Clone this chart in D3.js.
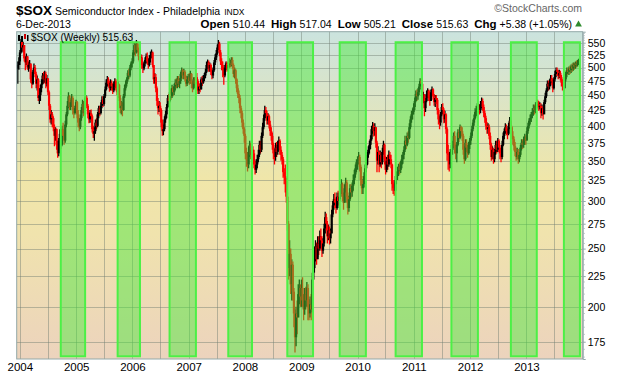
<!DOCTYPE html>
<html>
<head>
<meta charset="utf-8">
<script src="https://cdn.jsdelivr.net/npm/d3@7"></script>
<style>
  body { margin: 0; background: #fff; }
  svg { display: block; }
  text { font-family: "Liberation Sans", Arial, sans-serif; }
</style>
</head>
<body>
<svg id="chart" width="620" height="376"></svg>
<script>
// Weekly bars, one entry per Friday: [high, low, close]
const bars2003 = [[512,470,505],[520,496,512]]
const bars2004 = [
  [535,505,530],[558,528,552],[556,532,540],[552,530,545],[545,512,518],[522,495,510],[528,505,522],[522,496,500],
  [512,492,505],[515,498,508],[505,472,478],[485,462,470],[496,468,492],[508,488,500],[505,482,488],[492,462,470],
  [485,458,478],[480,440,445],[462,435,450],[468,440,462],[478,455,470],[490,468,485],[492,470,478],[494,472,488],
  [492,462,470],[486,465,480],[480,450,455],[458,425,432],[435,405,410],[425,402,418],[422,398,412],[415,392,398],
  [402,370,385],[398,378,395],[396,365,372],[378,354,360],[382,356,378],[395,372,388],[392,366,372],[400,370,395],
  [405,380,385],[390,372,378],[408,375,402],[422,398,418],[440,415,432],[455,428,448],[450,425,430],[442,425,438],
  [452,430,445],[448,418,425],[432,412,420],[432,418,428],[442,422,438]
]
const bars2005 = [
  [440,412,418],[425,398,405],[412,392,398],[418,395,412],[430,408,425],[442,420,435],[440,415,420],[446,418,440],
  [450,432,445],[448,428,432],[435,412,418],[422,404,410],[425,405,420],[426,408,415],[418,390,395],[400,382,388],
  [398,378,392],[410,388,405],[412,395,400],[422,398,418],[432,412,428],[432,415,420],[438,418,432],[448,428,442],
  [448,430,435],[452,432,448],[465,445,460],[478,458,472],[484,465,478],[482,465,470],[475,456,462],[478,458,472],
  [476,458,465],[470,452,458],[474,455,470],[480,464,475],[478,458,462],[468,450,455],[474,450,468],[470,440,445],
  [450,420,428],[440,418,432],[438,415,425],[452,424,448],[468,445,462],[476,458,470],[482,465,478],[495,474,490],
  [498,478,485],[505,482,500],[512,495,508],[518,500,512]
]
const bars2006 = [
  [535,508,530],[550,525,545],[552,522,530],[556,528,548],[552,530,535],[540,515,522],[528,505,512],[526,505,520],
  [525,498,505],[510,490,498],[512,495,508],[520,502,515],[528,508,522],[530,506,512],[518,498,505],[524,502,518],
  [532,510,525],[536,518,530],[532,500,505],[505,470,478],[490,470,482],[488,455,462],[465,432,440],[445,418,428],
  [440,422,432],[438,415,425],[428,398,405],[410,385,392],[402,386,395],[415,392,410],[424,405,418],[435,412,430],
  [450,428,445],[452,435,440],[460,438,455],[462,442,448],[468,445,462],[466,448,455],[470,450,465],[478,458,472],
  [480,462,468],[484,462,478],[484,464,470],[480,462,475],[492,470,488],[500,480,495],[498,478,485],[498,478,492],
  [495,474,480],[485,465,470],[484,466,478],[488,472,482]
]
const bars2007 = [
  [490,468,475],[494,470,488],[490,462,470],[475,455,462],[482,460,478],[482,465,470],[488,468,482],[490,470,475],
  [478,452,458],[470,452,465],[472,455,460],[482,460,478],[484,466,472],[486,470,480],[490,475,485],[498,480,492],
  [512,490,505],[516,498,510],[514,492,498],[510,492,505],[508,486,492],[498,478,485],[500,480,495],[515,492,510],
  [526,505,520],[535,515,528],[546,525,540],[556,535,548],[552,522,530],[535,505,512],[518,495,505],[512,482,495],
  [500,468,485],[505,482,500],[512,495,508],[512,492,498],[510,494,505],[518,500,512],[516,500,508],[520,502,515],
  [520,498,505],[508,482,488],[500,480,495],[498,470,478],[480,455,462],[468,445,452],[458,436,445],[450,420,428],
  [432,412,420],[424,398,405],[410,388,395],[398,375,385]
]
const bars2008 = [
  [388,352,360],[368,342,352],[362,336,345],[370,340,362],[378,355,372],[375,352,358],[372,352,365],[370,350,360],
  [365,340,345],[350,332,338],[352,334,345],[358,340,352],[365,348,358],[378,355,372],[378,360,365],[390,362,385],
  [405,382,398],[418,395,412],[432,408,425],[430,412,420],[424,402,408],[420,402,415],[418,396,402],[408,385,392],
  [398,378,385],[390,365,372],[375,352,360],[366,345,355],[375,350,368],[376,355,362],[378,358,372],[384,364,378],
  [380,358,365],[370,350,358],[362,345,352],[355,328,335],[340,320,330],[345,310,325],[328,298,305],[310,268,275],
  [278,222,232],[258,225,245],[250,210,218],[240,205,235],[238,205,212],[215,185,195],[198,168,178],[200,172,195],
  [205,180,192],[218,195,210],[222,202,215],[218,200,208]
]
const bars2009 = [
  [222,200,215],[224,200,205],[210,190,198],[215,194,210],[216,198,205],[220,200,215],[218,190,200],[206,190,195],
  [208,192,202],[210,190,198],[228,196,222],[238,218,232],[252,228,245],[258,238,252],[256,235,240],[262,242,255],
  [262,244,250],[268,248,262],[270,250,258],[262,242,248],[260,245,255],[275,252,270],[288,265,282],[286,268,275],
  [278,255,262],[274,258,268],[272,254,260],[270,255,265],[290,265,285],[300,282,295],[308,290,302],[310,292,298],
  [304,286,292],[310,290,305],[312,295,300],[310,292,305],[320,302,315],[326,308,320],[322,300,305],[310,290,298],
  [320,298,315],[328,310,322],[325,298,305],[310,285,292],[306,288,302],[320,300,315],[320,304,310],[322,305,318],
  [332,312,325],[338,320,332],[345,328,340],[352,335,348]
]
const bars2010 = [
  [356,338,350],[362,345,355],[358,336,342],[345,318,325],[330,308,315],[326,308,320],[335,316,330],[345,328,340],
  [350,335,345],[362,344,358],[370,354,365],[378,360,372],[386,366,380],[400,378,395],[406,388,400],[404,384,392],
  [404,385,398],[398,368,375],[378,335,350],[370,345,362],[364,335,345],[364,342,358],[362,340,348],[368,345,362],
  [378,358,372],[374,345,352],[356,332,338],[355,335,350],[358,338,345],[364,342,358],[362,346,352],[358,340,345],
  [346,312,320],[325,308,315],[322,306,312],[330,312,325],[336,320,330],[342,325,336],[346,330,342],[348,332,338],
  [350,334,345],[358,340,352],[362,346,358],[370,352,365],[385,362,378],[384,366,372],[390,370,385],[392,375,382],
  [404,380,398],[415,395,410],[424,405,418],[428,410,422],[436,418,430]
]
const bars2011 = [
  [446,425,440],[458,438,452],[460,440,448],[462,442,455],[470,450,465],[480,460,475],[478,462,470],[470,438,445],
  [456,436,450],[452,415,428],[445,422,440],[458,438,452],[462,445,458],[460,440,445],[450,432,440],[460,440,455],
  [465,448,460],[462,442,448],[452,432,438],[450,430,445],[450,435,442],[445,418,425],[428,402,410],[415,395,405],
  [422,400,418],[435,415,430],[436,418,425],[428,404,410],[424,405,418],[420,388,395],[398,350,360],[372,338,358],
  [362,336,345],[366,340,362],[372,352,365],[378,358,372],[390,368,385],[392,360,368],[374,352,360],[376,348,372],
  [395,370,390],[394,376,382],[402,380,398],[400,384,392],[398,378,385],[388,358,365],[370,346,352],[380,350,375],
  [380,362,368],[372,354,360],[376,358,372],[382,366,378]
]
const bars2012 = [
  [390,372,385],[400,382,395],[410,392,405],[418,400,412],[428,410,422],[432,415,425],[436,418,430],[436,420,428],
  [434,418,425],[440,420,435],[446,428,440],[444,424,430],[434,414,420],[424,405,412],[416,394,400],[406,388,395],
  [404,388,398],[402,380,385],[390,365,372],[375,350,355],[370,352,365],[368,346,352],[366,348,362],[378,358,372],
  [378,360,365],[382,362,378],[380,362,368],[372,352,360],[366,348,355],[378,352,372],[390,370,385],[396,380,392],
  [404,388,398],[402,386,392],[396,380,388],[405,386,400],[414,395,408],[410,392,398],[400,380,385],[392,372,380],
  [384,364,370],[376,356,362],[368,350,355],[368,352,362],[366,346,352],[362,348,358],[372,355,368],[380,364,375],
  [380,366,372],[384,368,378],[388,372,382],[386,372,378]
]
const bars2013 = [
  [398,380,392],[405,388,400],[412,396,408],[418,402,412],[422,406,418],[428,412,422],[434,416,428],[434,418,425],
  [438,420,432],[442,426,438],[442,428,435],[440,424,430],[438,426,432],[436,412,420],[434,416,428],[432,410,418],
  [442,420,438],[454,435,448],[462,445,458],[476,456,470],[476,458,465],[478,460,472],[486,466,480],[486,468,474],
  [480,455,462],[482,460,478],[494,474,488],[500,482,495],[500,484,492],[496,478,485],[496,480,490],[494,476,482],
  [486,465,472],[478,458,468],[472,456,462],[482,462,478],[492,474,488],[500,482,495],[500,486,492],[502,486,498],
  [504,488,495],[506,490,502],[508,492,498],[510,494,505],[510,496,502],[512,498,508],[514,500,505],[515,502,510.25],
  [517.04,505.21,515.63]
]
const firstOpen = 498
const weeklyYears = [2003, 2004, 2005, 2006, 2007, 2008, 2009, 2010, 2011, 2012, 2013]
const weeklyBars = [bars2003, bars2004, bars2005, bars2006, bars2007, bars2008, bars2009, bars2010, bars2011, bars2012, bars2013]

// Axes
const yearTicks = [2004, 2005, 2006, 2007, 2008, 2009, 2010, 2011, 2012, 2013]
const priceTicks = [175, 200, 225, 250, 275, 300, 325, 350, 375, 400, 425, 450, 475, 500, 525, 550]

// Highlighted seasonal windows
const boxStarts = ["2004-09-23", "2005-09-27", "2006-08-30", "2007-09-15", "2008-10-02", "2009-09-07", "2010-09-05", "2011-09-02", "2012-09-22", "2013-09-01"]
const boxEnds   = ["2005-02-28", "2006-02-19", "2007-02-17", "2008-02-16", "2009-03-18", "2010-02-24", "2011-02-23", "2012-02-21", "2013-03-09", "2013-12-14"]

// Header
const symbol = "$SOX"
const indexName = "Semiconductor Index - Philadelphia"
const exchange = "INDX"
const lastDate = "6-Dec-2013"
const quoteLabels = ["Open", "High", "Low", "Close", "Chg"]
const quoteValues = ["510.44", "517.04", "505.21", "515.63", "+5.38 (+1.05%)"]
const legendText = "$SOX (Weekly) 515.63"

const svg = d3.select("#chart")
const plotL = 16.7, plotR = 582.7, plotT = 31.7, plotB = 359

const x = d3.scaleUtc()
  .domain([new Date(Date.UTC(2003, 11, 12)), new Date(Date.UTC(2014, 0, 1))])
  .range([plotL, plotR])
const y = d3.scaleLog()
  .domain([163.8, 573.7])
  .range([plotB, plotT])

// background gradient
const defs = svg.append("defs")
const grad = defs.append("linearGradient").attr("id", "bg")
  .attr("x1", 0).attr("y1", 0).attr("x2", 0).attr("y2", 1)
grad.append("stop").attr("offset", "0%").attr("stop-color", "#cbe3de")
grad.append("stop").attr("offset", "45%").attr("stop-color", "#f0e6a9")
grad.append("stop").attr("offset", "62%").attr("stop-color", "#f0e3ad")
grad.append("stop").attr("offset", "100%").attr("stop-color", "#ecd3bd")
defs.append("clipPath").attr("id", "plotclip")
  .append("rect").attr("x", plotL).attr("y", plotT).attr("width", plotR - plotL).attr("height", plotB - plotT)

svg.append("rect")
  .attr("x", plotL).attr("y", plotT)
  .attr("width", plotR - plotL).attr("height", plotB - plotT)
  .attr("fill", "url(#bg)")

// grid
const halfYears = []
yearTicks.forEach(yr => {
  halfYears.push(new Date(Date.UTC(yr, 0, 1)))
  halfYears.push(new Date(Date.UTC(yr, 6, 1)))
})
svg.append("g").selectAll("line").data(halfYears).join("line")
  .attr("x1", d => Math.round(x(d)) + 0.5).attr("x2", d => Math.round(x(d)) + 0.5)
  .attr("y1", plotT).attr("y2", plotB)
  .attr("stroke", "#6f7d72").attr("stroke-opacity", 0.45)
svg.append("g").selectAll("line").data(priceTicks).join("line")
  .attr("x1", plotL).attr("x2", plotR)
  .attr("y1", d => Math.round(y(d)) + 0.5).attr("y2", d => Math.round(y(d)) + 0.5)
  .attr("stroke", "#6f7d72").attr("stroke-opacity", 0.45)

// candles
const candles = []
let prev = firstOpen
weeklyYears.forEach((yr, i) => {
  const start = yr === 2003 ? new Date(Date.UTC(2003, 11, 19)) : new Date(Date.UTC(yr, 0, 1))
  const fridays = d3.utcFriday.range(start, new Date(Date.UTC(yr + 1, 0, 1)))
  weeklyBars[i].forEach((b, j) => {
    candles.push({date: fridays[j], open: prev, high: b[0], low: b[1], close: b[2], up: b[2] >= prev})
    prev = b[2]
  })
})

const cg = svg.append("g").attr("clip-path", "url(#plotclip)")
cg.selectAll("line").data(candles).join("line")
  .attr("x1", d => x(d.date)).attr("x2", d => x(d.date))
  .attr("y1", d => y(d.high)).attr("y2", d => y(d.low))
  .attr("stroke", d => d.up ? "#000" : "#ff0000")
  .attr("stroke-width", 1.3)
cg.selectAll("rect").data(candles).join("rect")
  .attr("x", d => x(d.date) - 1.1)
  .attr("width", 2.2)
  .attr("y", d => y(Math.max(d.open, d.close)))
  .attr("height", d => Math.max(1, Math.abs(y(d.open) - y(d.close))))
  .attr("fill", d => d.up ? "#000" : "#ff0000")

// highlight boxes
const boxes = boxStarts.map((s, i) => ({start: new Date(s), end: new Date(boxEnds[i])}))
svg.append("g").selectAll("rect").data(boxes).join("rect")
  .attr("x", d => x(d.start))
  .attr("width", d => x(d.end) - x(d.start))
  .attr("y", y(551))
  .attr("height", y(165.5) - y(551))
  .attr("fill", "rgb(70,232,60)")
  .attr("fill-opacity", 0.47)
  .attr("stroke", "#4cf046")
  .attr("stroke-width", 2)

// frame
svg.append("rect")
  .attr("x", plotL).attr("y", plotT)
  .attr("width", plotR - plotL).attr("height", plotB - plotT)
  .attr("fill", "none").attr("stroke", "#93a9a9").attr("stroke-width", 1)

// right axis
const yAxis = d3.axisRight(y).tickValues(priceTicks).tickFormat(d3.format("d")).tickSize(3).tickPadding(2)
const ya = svg.append("g").attr("transform", `translate(${plotR},0)`).call(yAxis)
ya.select(".domain").attr("stroke", "#93a9a9")
ya.selectAll(".tick line").attr("stroke", "#93a9a9")
ya.selectAll("text").attr("font-size", "10.5px").attr("fill", "#000")
  .attr("font-family", "'Liberation Sans', Arial, sans-serif")
const minor = d3.range(165, 575, 5).filter(v => priceTicks.indexOf(v) < 0)
svg.append("g").selectAll("line").data(minor).join("line")
  .attr("x1", plotR).attr("x2", plotR + 2)
  .attr("y1", d => y(d)).attr("y2", d => y(d))
  .attr("stroke", "#a8b8b8")

// bottom axis
const xAxis = d3.axisBottom(x)
  .tickValues(yearTicks.map(yr => new Date(Date.UTC(yr, 0, 1))))
  .tickFormat(d3.utcFormat("%Y")).tickSize(0).tickPadding(4)
const xa = svg.append("g").attr("transform", `translate(0,${plotB})`).call(xAxis)
xa.select(".domain").remove()
xa.selectAll("text").attr("font-size", "11.5px").attr("fill", "#000")
  .attr("font-family", "'Liberation Sans', Arial, sans-serif")

// header
svg.append("text").attr("x", 16).attr("y", 15)
  .attr("font-weight", "bold").attr("font-size", "13.5px").text(symbol)
const sub = svg.append("text").attr("x", 55).attr("y", 15)
sub.append("tspan").attr("font-size", "10.5px").text(indexName)
sub.append("tspan").attr("dx", 4).attr("font-size", "8.5px").text(exchange)

svg.append("text").attr("x", 16).attr("y", 28).attr("font-size", "10.5px").text(lastDate)

svg.append("text").attr("x", 582).attr("y", 12).attr("text-anchor", "end")
  .attr("font-size", "10.5px").attr("fill", "#666").text("\u00a9StockCharts.com")

const q = svg.append("text").attr("x", 0).attr("y", 28)
quoteLabels.forEach((lab, i) => {
  q.append("tspan").attr("dx", i === 0 ? 0 : 6).attr("font-weight", "bold").attr("font-size", "11.5px").text(lab)
  q.append("tspan").attr("dx", 3).attr("font-size", "10.5px").text(quoteValues[i])
})
const qb = q.node().getBBox()
q.attr("x", 572 - qb.width)
svg.append("path")
  .attr("d", d3.symbol(d3.symbolTriangle, 20)())
  .attr("transform", "translate(578.5,24.5)")
  .attr("fill", "#2e8b2e")

// legend
const lg = svg.append("g").attr("transform", "translate(18,34)")
lg.append("rect").attr("x", 0).attr("y", 1).attr("width", 2).attr("height", 6).attr("fill", "#000")
lg.append("rect").attr("x", 3).attr("y", 2).attr("width", 2).attr("height", 6).attr("fill", "#000")
lg.append("rect").attr("x", 6).attr("y", 0).attr("width", 2).attr("height", 5).attr("fill", "#c00")
lg.append("rect").attr("x", 9).attr("y", 1).attr("width", 1.5).attr("height", 6).attr("fill", "#000")
svg.append("text").attr("x", 31).attr("y", 41)
  .attr("font-family", "'DejaVu Sans Mono', monospace").attr("font-size", "10px")
  .text(legendText)
</script>
</body>
</html>
